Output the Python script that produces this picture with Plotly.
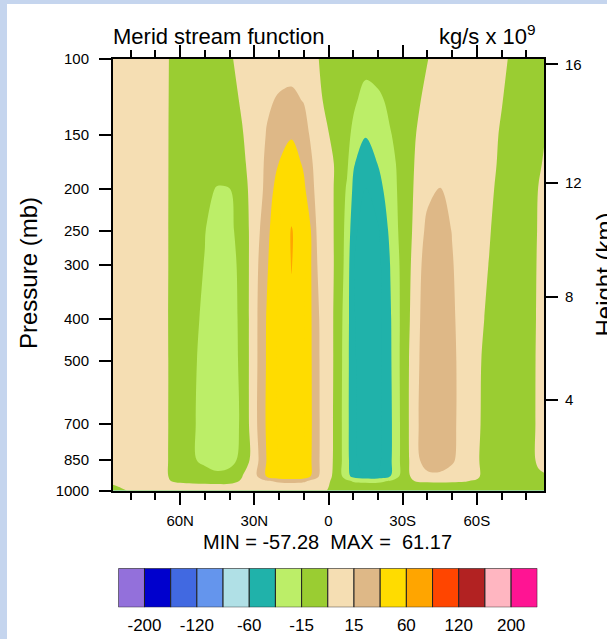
import numpy as np
import plotly.graph_objects as go

# ---------------- data ----------------
lat = [87.16, 85, 80, 75, 70, 65, 60, 55, 50, 45, 40, 35, 30, 25, 20, 15, 10, 5, 2.5, 0,
       -2.5, -5, -7.5, -10, -15, -20, -25, -30, -35, -40, -45, -50, -55, -60, -65, -70, -75, -80, -85, -87.16]
plev = [100, 125, 150, 175, 200, 250, 300, 400, 500, 700, 850, 925, 950, 1000]

psi_100 = [3, 3, 3, 2.5, 2, 0.3, -3, -4, -4.5, -4, -1.2, 3, 5, 7, 9, 10, 8, 3, -4, -6,
           -7, -8, -9, -10, -11, -10, -8, -6, -3.5, -0.3, 4, 4.5, 4, 3, 2, 1, -1, -2, -2.5, -2.5]
psi_125 = [3, 3, 3.5, 3, 2.5, 0.3, -4, -6, -7, -7, -4, 1.3, 6, 13, 16.5, 17.6, 14.5, 7, 0.3, -5,
           -7, -8.5, -10, -13, -19, -17, -13, -9, -3, 3.5, 7, 7, 6, 5, 3.5, 0.5, -4.5, -5, -4, -3.5]
psi_150 = [3, 3.5, 4, 3.5, 2.5, 0.3, -5, -8, -9, -9.5, -7, -0.8, 6, 15.8, 24, 28.5, 21, 7.4, 2.5, 0.6,
           -4.4, -8, -12, -17.4, -29, -22, -15.5, -11.3, -0.5, 5.8, 9, 8.5, 7, 5.5, 3.5, -1.2, -5, -5.5, -3, -1.5]
psi_175 = [3, 3.5, 4, 4, 3, 0.3, -5.5, -9, -11, -12, -9, -3, 6.4, 17.7, 30.5, 38, 28, 10, 4.5, 2,
           -0.3, -6, -12.4, -28.5, -39, -29.6, -20, -9, 0.6, 9, 13, 11, 8.5, 6, 3, -2, -6, -6.5, -3, 2]
psi_200 = [3, 3.5, 4, 4, 3, 0.3, -6, -10.5, -13.5, -15.4, -15.2, -4.5, 4.9, 19.3, 39, 50, 33, 11.6, 5, 2,
           -0.4, -8, -17, -32.5, -46, -36, -21.7, -9.3, 1.5, 11, 15.2, 13, 10, 6.5, 2, -3, -6.5, -6, 0.5, 3]
psi_250 = [3, 3.5, 4, 4, 3, 0.3, -7, -10.5, -14.5, -22, -18.5, -8.8, 6.9, 25, 45, 61.17, 50, 15.5, 6, 2.5,
           -0.5, -9.3, -20.3, -39, -56, -47, -26.3, -8.6, 2.7, 19.3, 22, 14.5, 10, 6, 0.7, -4.5, -7, -5.5, 0.8, 3]
psi_300 = [3, 3.5, 4, 4, 3, 0.3, -7, -11, -15.5, -24, -19.5, -11.5, 9, 28, 45, 60.6, 50, 17, 7, 3,
           -0.5, -9.5, -22, -44, -57.28, -50, -29.6, -9.9, 5.1, 24, 25.5, 16, 7.7, 4, -0.3, -5, -7.5, -6, 1.3, 3.5]
psi_400 = [3, 3.5, 4, 4, 3, 0.2, -7, -12.5, -17, -25, -20, -12.2, 9.6, 31, 48, 57, 47, 20, 10, 4,
           -1.2, -12, -24, -43, -56, -50, -31.5, -10, 7.2, 26, 26, 17, 9.3, 3, -2, -6, -8, -6.5, 1.8, 4]
psi_500 = [2.5, 3, 4, 4, 3, 0.3, -7, -13.2, -18.2, -26, -21, -12.2, 9.6, 31.3, 48, 56, 46, 21, 10, 4,
           -1.2, -12.5, -25, -42, -55, -50, -32, -9.5, 9, 26, 26, 18, 9.2, 2, -3.5, -7, -8.5, -6.5, 2.2, 4]
psi_700 = [2.5, 3, 4, 4, 3, 0.3, -7.5, -13.8, -18.4, -26, -21.5, -13, 10, 32, 49, 56, 46, 21.5, 10, 4,
           -1.5, -13, -25.5, -41.5, -54, -50, -33, -10, 10, 27, 26, 18, 9, 1.5, -3.5, -7.5, -9, -7, 2.5, 4]
psi_850 = [2.5, 3, 3.5, 3.5, 2.5, 0.2, -7, -13.5, -18, -24, -20, -11, 7, 30.5, 46, 54, 45, 21, 10, 3.5,
           -1.5, -13, -25, -41, -53, -49, -32.5, -10, 9, 24, 24, 17, 8, 1, -4, -8, -9, -7, 2.5, 4]
psi_925 = [1.5, 2, 2.5, 2.5, 1.8, 0.2, -5, -8, -10, -11, -10, -0.5, 10, 32, 46, 50, 43, 20, 9, 2.5,
           -2, -13, -24, -36, -45, -43, -31, -9, 6, 11, 12, 10, 6, 1, -3, -6, -7, -5, -2, -1]
psi_950 = [1, 1.5, 2, 2, 1.5, 0.5, -1.5, -3, -4, -4.5, -3.5, 1, 6, 14, 17, 18, 17, 10, 5, 1,
           -2.5, -9, -13, -16, -17, -17, -14.5, -5, 0.2, 0.5, 0.6, 0.5, 0.3, -0.5, -3, -5, -6, -5, -3, -2]
psi_1000 = [-1.5, -1, 0.5, 2, 3, 4, 6, 8, 9, 9, 8, 7, 7, 6, 5, 5, 4, 3, 1.5, -0.5,
            -3, -5, -6, -7, -7, -7, -6, -4, -3, -3, -3, -3, -3, -3, -4, -5, -5, -4, -3, -2]

levels = [-200, -160, -120, -80, -60, -30, -15, 0, 15, 30, 60, 80, 120, 160, 200]
colors = ["#9370DB", "#0000CD", "#4169E1", "#6495ED", "#B0E0E6", "#20B2AA", "#BCEE68", "#9ACD32",
          "#F5DEB3", "#DEB887", "#FFDC00", "#FFA500", "#FF4500", "#B22222", "#FFB6C1", "#FF1493"]

lat_ticks = [60, 30, 0, -30, -60]
lat_minor = [80, 70, 50, 40, 20, 10, -10, -20, -40, -50, -70, -80]
p_ticks = [100, 150, 200, 250, 300, 400, 500, 700, 850, 1000]
height_ticks_km = [4, 8, 12, 16]

FONT = "Liberation Sans, Arial, Helvetica, sans-serif"

# ---------------- figure ----------------
psi = np.array([psi_100, psi_125, psi_150, psi_175, psi_200, psi_250, psi_300, psi_400,
                psi_500, psi_700, psi_850, psi_925, psi_950, psi_1000], dtype=float)
lat_arr = np.array(lat)[::-1]
z = psi[:, ::-1]

c_start, c_end, c_size = -60, 75, 15
nb = int(round((c_end - c_start) / c_size)) + 2
cscale = []
for k in range(nb):
    mid = c_start - c_size / 2 + k * c_size
    col = colors[int(np.searchsorted(levels, mid))]
    lo = max(0.0, (k - 0.5) / (nb - 1))
    hi = min(1.0, (k + 0.5) / (nb - 1))
    cscale.append([lo, col])
    cscale.append([hi, col])


def std_pressure(z_km):
    zm = z_km * 1000.0
    if zm <= 11000:
        return 1013.25 * (1 - 2.25577e-5 * zm) ** 5.25588
    return 226.32 * np.exp(-1.57688e-4 * (zm - 11000))


def lat_label(v):
    if v > 0:
        return f"{v}N"
    if v < 0:
        return f"{-v}S"
    return "0"


W, H = 607, 639
ml, mr, mt, mb = 113, 63, 59, 30
pw, ph = W - ml - mr, H - mt - mb


def px2fx(x):
    return (x - ml) / pw


def px2fy(y):
    return (H - mb - y) / ph


fig = go.Figure()
fig.add_trace(go.Contour(
    x=lat_arr, y=plev, z=z, autocontour=False,
    contours=dict(start=c_start, end=c_end, size=c_size, coloring="fill", showlines=False),
    colorscale=cscale, showscale=False, line=dict(width=0, smoothing=1),
    hoverinfo="skip"))
fig.add_trace(go.Scatter(x=[0], y=[500], yaxis="y2", mode="markers",
                         marker=dict(opacity=0), showlegend=False, hoverinfo="skip"))
fig.add_trace(go.Scatter(x=[0, len(colors)], y=[0, 1], xaxis="x2", yaxis="y3", mode="markers",
                         marker=dict(opacity=0), showlegend=False, hoverinfo="skip"))

tickfont = dict(family=FONT, size=15, color="black")
xr = [max(lat), min(lat)]
fig.update_layout(
    template="none", width=W, height=H,
    margin=dict(l=ml, r=mr, t=mt, b=mb, autoexpand=False),
    paper_bgcolor="white", plot_bgcolor="white", showlegend=False,
    xaxis=dict(domain=[0, 1], anchor="y", range=xr, tickvals=lat_ticks,
               ticktext=[lat_label(v) for v in lat_ticks], ticks="outside", ticklen=12,
               tickwidth=2, tickcolor="black", showline=True, linecolor="black", linewidth=2,
               mirror="ticks", showgrid=False, zeroline=False, tickfont=tickfont,
               ticklabelstandoff=3, automargin=False,
               minor=dict(tickvals=lat_minor, ticks="outside", ticklen=7, tickwidth=1.5,
                          tickcolor="black", showgrid=False)),
    yaxis=dict(domain=[px2fy(490.5), 1], anchor="x", type="log", range=[3, 2],
               tickvals=p_ticks, ticktext=[str(p) for p in p_ticks], ticks="outside",
               ticklen=12, tickwidth=2, tickcolor="black", showline=True, linecolor="black",
               linewidth=2, showgrid=False, zeroline=False, tickfont=tickfont,
               ticklabelstandoff=7, automargin=False),
    yaxis2=dict(overlaying="y", side="right", anchor="x", type="log", range=[3, 2],
                tickvals=[std_pressure(h) for h in height_ticks_km],
                ticktext=[str(h) for h in height_ticks_km], ticks="outside", ticklen=12,
                tickwidth=2, tickcolor="black", showline=True, linecolor="black", linewidth=2,
                showgrid=False, zeroline=False, tickfont=tickfont, ticklabelstandoff=4,
                automargin=False),
    xaxis2=dict(domain=[px2fx(118.3), px2fx(537.3)], anchor="y3", range=[0, len(colors)],
                tickvals=list(range(1, len(levels) + 1, 2)),
                ticktext=[str(v) for v in levels[::2]], ticks="", showline=False,
                showgrid=False, zeroline=False, ticklabelstandoff=6,
                tickfont=dict(family=FONT, size=17, color="black"), automargin=False),
    yaxis3=dict(domain=[px2fy(607.3), px2fy(568.3)], anchor="x2", range=[0, 1], visible=False),
)

shapes = []
bg_blue = "#C5D5EE"
shapes.append(dict(type="rect", xref="paper", yref="paper", x0=px2fx(0), x1=px2fx(7),
                   y0=px2fy(H), y1=px2fy(0), fillcolor=bg_blue, line=dict(width=0), layer="below"))
shapes.append(dict(type="rect", xref="paper", yref="paper", x0=px2fx(0), x1=px2fx(W),
                   y0=px2fy(4), y1=px2fy(0), fillcolor=bg_blue, line=dict(width=0), layer="below"))
for i, c in enumerate(colors):
    shapes.append(dict(type="rect", xref="x2", yref="y3", x0=i, x1=i + 1, y0=0, y1=1,
                       fillcolor=c, line=dict(color="#222222", width=1)))
fig.update_layout(shapes=shapes)

nb2 = "\u00a0"
annots = [
    dict(text="Pressure (mb)", x=px2fx(28.5), y=px2fy(273.5), textangle=-90,
         font=dict(family=FONT, size=24, color="black")),
    dict(text="Height (km)", x=px2fx(604), y=px2fy(274.5), textangle=-90,
         font=dict(family=FONT, size=24, color="black")),
    dict(text="Merid stream function", x=px2fx(110.5), y=px2fy(37), xanchor="left",
         font=dict(family=FONT, size=22, color="black")),
    dict(text="kg/s x 10<sup>9</sup>", x=px2fx(538), y=px2fy(35), xanchor="right",
         font=dict(family=FONT, size=22, color="black")),
    dict(text=f"MIN ={nb2}{psi.min():.2f}{nb2}{nb2}MAX ={nb2}{nb2}{psi.max():.2f}",
         x=px2fx(327.5), y=px2fy(542), font=dict(family=FONT, size=20, color="black")),
]
for a in annots:
    a.setdefault("xanchor", "center")
    a.setdefault("yanchor", "middle")
    fig.add_annotation(xref="paper", yref="paper", showarrow=False, **a)

fig.write_html("out.html")
